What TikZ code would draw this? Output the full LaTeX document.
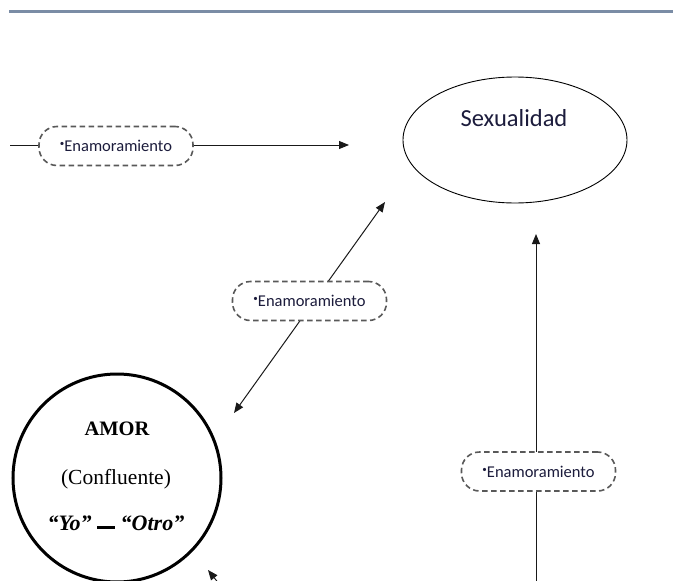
\documentclass[tikz,border=0pt]{standalone}
\usepackage{fontspec}
\setmainfont{Carlito}
\newfontfamily\camfont{Liberation Serif}
\usetikzlibrary{arrows.meta,shapes.geometric}
\definecolor{rulecol}{RGB}{122,140,165}
\definecolor{txtcol}{RGB}{28,28,60}
\tikzset{
  tag/.style={draw=black!65, dash pattern=on 5.5pt off 3.5pt, line width=1.6pt,
    rounded corners=18pt, fill=white, minimum width=154pt, minimum height=39pt,
    inner sep=0pt, text=txtcol, font=\fontsize{16.5}{18}\selectfont},
  conn/.style={line width=1pt, draw=black!90, -{Triangle[length=10pt,width=8pt]}},
  dconn/.style={line width=1pt, draw=black!90, {Triangle[length=10pt,width=8pt]}-{Triangle[length=10pt,width=8pt]}},
}
\newcommand{\enam}{\raisebox{5pt}{\fontsize{9}{9}\selectfont •}Enamoramiento}
\begin{document}
\begin{tikzpicture}[x=1pt,y=-1pt]
\useasboundingbox (0,0) rectangle (673,581);
\clip (0,0) rectangle (673,581);
% top rule
\coordinate (ruleL) at (9,11);
\coordinate (ruleR) at (673,11);
\draw[rulecol, line width=3pt] (ruleL) -- (ruleR);

% Sexualidad ellipse
\node[draw, ellipse, line width=0.9pt, minimum width=224pt, minimum height=126pt, inner sep=0pt] (sex) at (515,140) {};
\node[text=txtcol, font=\fontsize{24.5}{27}\selectfont, anchor=base] (sexlab) at (514,126) {Sexualidad};

% AMOR circle
\node[draw, circle, line width=3pt, minimum size=208pt, inner sep=0pt] (amor) at (117,478) {};
\node[font=\camfont\bfseries\fontsize{20.5}{23}\selectfont, anchor=base] (amorlab) at (117,435) {AMOR};
\node[font=\camfont\fontsize{21.5}{24}\selectfont, anchor=base] (conf) at (116,484) {(Confluente)};
\node[font=\camfont\bfseries\itshape\fontsize{22}{24}\selectfont, anchor=base] (yo) at (116,530)
  {“Yo” \rule[1pt]{18pt}{2.8pt} “Otro”};

% horizontal arrow
\coordinate (hstart) at (10,145);
\coordinate (hend) at (349,145);
\draw[conn] (hstart) -- (hend);
\node[tag] (t1) at (116,146) {\enam};

% diagonal double arrow
\coordinate (dtop) at (385,202);
\coordinate (dbot) at (234,413);
\draw[dconn] (dbot) -- (dtop);
\node[tag] (t2) at (309.5,301) {\enam};

% vertical arrow
\coordinate (vbot) at (536,600);
\coordinate (vtop) at (536,234);
\draw[conn] (vbot) -- (vtop);
\node[tag] (t3) at (538.5,471.5) {\enam};

% partial arrow at bottom
\coordinate (pbot) at (232,600);
\coordinate (ptop) at (208,570);
\draw[conn] (pbot) -- (ptop);
\end{tikzpicture}
\end{document}
